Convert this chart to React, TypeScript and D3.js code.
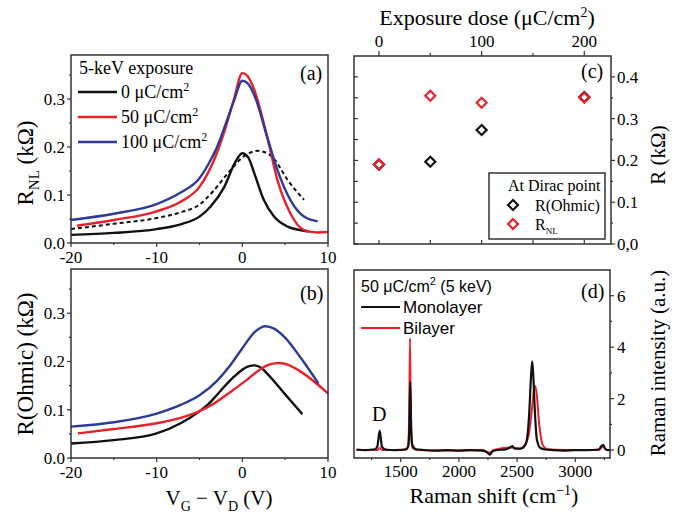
import React from "react";
import * as d3 from "d3";

// panel (a): nonlocal resistance vs gate voltage
const rnl0 = [[-20, 0.017], [-15, 0.021], [-10, 0.029], [-7.2, 0.039], [-5, 0.055], [-3.7, 0.076], [-2.1, 0.117], [-0.9, 0.166], [0, 0.187], [0.7, 0.178], [1.4, 0.145], [2.5, 0.09], [3.7, 0.055], [5.3, 0.034], [7, 0.026], [7.8, 0.024]];
const rnl0Dashed = [[-20, 0.029], [-15, 0.04], [-10, 0.052], [-7.2, 0.064], [-5, 0.08], [-3.3, 0.11], [-1.7, 0.145], [0.2, 0.181], [1.8, 0.192], [3, 0.186], [3.7, 0.175], [5.3, 0.131], [7.2, 0.09]];
const rnl50 = [[-19.3, 0.036], [-15, 0.048], [-10, 0.066], [-7.2, 0.086], [-5, 0.117], [-4, 0.146], [-3, 0.186], [-2, 0.238], [-1, 0.298], [0, 0.354], [0.6, 0.348], [1.4, 0.319], [2.9, 0.221], [4.1, 0.131], [5.6, 0.062], [7.2, 0.027], [8.8, 0.022], [10, 0.023]];
const rnl100 = [[-20, 0.048], [-15, 0.061], [-10, 0.081], [-7.2, 0.105], [-5, 0.135], [-4, 0.163], [-3, 0.198], [-2, 0.245], [-1, 0.295], [0, 0.338], [0.6, 0.333], [1.4, 0.308], [2.9, 0.221], [4.1, 0.152], [5.6, 0.09], [7.2, 0.055], [8.8, 0.045]];

// panel (b): ohmic resistance vs gate voltage
const ohm0 = [[-20, 0.03], [-15, 0.037], [-10, 0.051], [-7.2, 0.072], [-5, 0.097], [-4, 0.111], [-3, 0.13], [-2, 0.15], [-1, 0.168], [0, 0.183], [0.7, 0.19], [1.4, 0.192], [2.2, 0.187], [2.9, 0.175], [4.9, 0.134], [7, 0.091]];
const ohm50 = [[-19.2, 0.051], [-15, 0.06], [-10, 0.072], [-7.2, 0.083], [-5, 0.097], [-3.3, 0.113], [-1.3, 0.138], [0.6, 0.163], [2.1, 0.184], [3.2, 0.194], [4.3, 0.197], [5.5, 0.192], [6.9, 0.178], [10, 0.134]];
const ohm100 = [[-20, 0.065], [-15, 0.074], [-10, 0.092], [-7.2, 0.11], [-5, 0.13], [-2.9, 0.161], [-1.5, 0.19], [-0.1, 0.225], [1.5, 0.262], [2.7, 0.273], [3.7, 0.268], [4.9, 0.251], [7, 0.203], [8.9, 0.154]];

// panel (c): values at Dirac point vs dose
const doses = [0, 50, 100, 200];
const rOhmicDirac = [0.19, 0.197, 0.273, 0.352];
const rnlDirac = [0.19, 0.355, 0.338, 0.35];

// panel (d): raman spectra
const mono = [[1120, 0.02], [1200, 0.0], [1280, 0.03], [1300, 0.15], [1312, 0.55], [1320, 0.75], [1328, 0.5], [1340, 0.12], [1370, 0.02], [1450, 0.0], [1540, 0.02], [1565, 0.15], [1575, 1.0], [1582, 2.65], [1590, 0.9], [1600, 0.2], [1630, 0.03], [1700, 0.0], [1800, -0.02], [1900, 0.0], [2000, -0.02], [2100, 0.0], [2200, -0.02], [2240, -0.08], [2265, -0.18], [2290, -0.05], [2330, 0.0], [2400, 0.02], [2440, 0.1], [2460, 0.15], [2480, 0.05], [2530, 0.05], [2570, 0.2], [2590, 0.6], [2605, 1.5], [2620, 2.9], [2630, 3.45], [2640, 2.8], [2655, 1.3], [2670, 0.4], [2700, 0.08], [2740, 0.02], [2800, 0.0], [2900, -0.02], [3000, 0.0], [3100, 0.0], [3200, 0.02], [3230, 0.18], [3240, 0.2], [3255, 0.05], [3280, 0.0], [3300, 0.0]];
const bi = [[1120, 0.0], [1300, 0.0], [1320, 0.08], [1340, 0.0], [1550, 0.02], [1565, 0.2], [1573, 1.4], [1580, 4.35], [1588, 1.0], [1600, 0.1], [1640, 0.0], [1900, -0.02], [2200, 0.0], [2265, -0.1], [2300, 0.0], [2450, 0.1], [2520, 0.06], [2560, 0.15], [2600, 0.6], [2630, 1.7], [2650, 2.5], [2665, 2.3], [2690, 1.0], [2720, 0.2], [2760, 0.03], [2900, 0.0], [3200, 0.0], [3240, 0.15], [3270, 0.0], [3300, 0.0]];

const xTicksVG = [-20, -10, 0, 10];
const rTicks = [0, 0.1, 0.2, 0.3];
const doseTicks = [0, 100, 200];
const rcTicks = [0, 0.1, 0.2, 0.3, 0.4];
const rcLabels = ["0,0", "0.1", "0.2", "0.3", "0.4"];
const ramanXTicks = [1500, 2000, 2500, 3000];
const ramanYTicks = [0, 2, 4, 6];

const RED = "#e8222a";
const BLUE = "#2e3a97";
const BLK = "#111";
const AX = "#333";
const SERIF = "Liberation Serif, DejaVu Serif, serif";
const SANS = "Liberation Sans, Arial, sans-serif";

const App = () => {
  // panel frames
  const xA = d3.scaleLinear().domain([-20, 10]).range([71, 328]);
  const yA = d3.scaleLinear().domain([0, 0.3917]).range([243, 55]);
  const yB = d3.scaleLinear().domain([0, 0.3917]).range([458, 269]);
  const xC = d3.scaleLinear().domain([-24.3, 226]).range([354, 611]);
  const yC = d3.scaleLinear().domain([0, 0.45]).range([244, 56]);
  const xD = d3.scaleLinear().domain([1099, 3298]).range([354, 610]);
  const yD = d3.scaleLinear().domain([-0.31, 7]).range([458, 270]);

  const lineA = d3.line<number[]>().x(d => xA(d[0])).y(d => yA(d[1])).curve(d3.curveMonotoneX);
  const lineB = d3.line<number[]>().x(d => xA(d[0])).y(d => yB(d[1])).curve(d3.curveMonotoneX);
  const lineD = d3.line<number[]>().x(d => xD(d[0])).y(d => yD(d[1])).curve(d3.curveMonotoneX);

  const frame = (x0: number, x1: number, y0: number, y1: number) => (
    <rect x={x0} y={y0} width={x1 - x0} height={y1 - y0} fill="none" stroke={AX} strokeWidth={1.5} />
  );

  const diamond = (cx: number, cy: number, color: string, key: string) => (
    <path key={key} d={`M${cx},${cy - 5}L${cx + 5},${cy}L${cx},${cy + 5}L${cx - 5},${cy}Z`} fill="none" stroke={color} strokeWidth={2.2} />
  );

  const vgPanel = (y: d3.ScaleLinear<number, number>, labelBase: number) => (
    <g>
      {d3.range(-20, 10.1, 5).map(v => (
        <line key={"bx" + v} x1={xA(v)} x2={xA(v)} y1={y(0)} y2={y(0) + (v % 10 === 0 ? 4 : 2)} stroke={AX} strokeWidth={1.2} />
      ))}
      {d3.range(0, 0.36, 0.05).map(v => (
        <line key={"ly" + v} x1={71} x2={71 - (Math.round(v * 100) % 10 === 0 ? 4 : 2)} y1={y(v)} y2={y(v)} stroke={AX} strokeWidth={1.2} />
      ))}
      {xTicksVG.map(v => (
        <text key={"xl" + v} x={xA(v)} y={labelBase} textAnchor="middle" fontSize={17}>{v < 0 ? "-" + Math.abs(v) : v}</text>
      ))}
      {rTicks.map(v => (
        <text key={"yl" + v} x={65} y={y(v) + 6} textAnchor="end" fontSize={17}>{v.toFixed(1)}</text>
      ))}
    </g>
  );

  return (
    <svg width={682} height={517} style={{ position: "absolute", left: 0, top: 0, background: "#fff", fontFamily: SERIF }}>
      {/* panel (a) */}
      <path d={lineA(rnl0Dashed) || ""} fill="none" stroke={BLK} strokeWidth={2} strokeDasharray="4,3" />
      <path d={lineA(rnl0) || ""} fill="none" stroke={BLK} strokeWidth={2.4} />
      <path d={lineA(rnl50) || ""} fill="none" stroke={RED} strokeWidth={2.4} />
      <path d={lineA(rnl100) || ""} fill="none" stroke={BLUE} strokeWidth={2.4} />
      {frame(71, 328, 55, 243)}
      {vgPanel(yA, 263)}
      <text x={300} y={80} fontSize={20}>(a)</text>
      <text x={79} y={74} fontSize={18}>5-keV exposure</text>
      {[["0", BLK], ["50", RED], ["100", BLUE]].map(([t, c], i) => (
        <g key={t}>
          <line x1={78} x2={117} y1={92 + i * 25} y2={92 + i * 25} stroke={c} strokeWidth={2.4} />
          <text x={121} y={98 + i * 25} fontSize={18}>{t} μC/cm<tspan dy={-7} fontSize={12}>2</tspan></text>
        </g>
      ))}
      <text transform="translate(33,163) rotate(-90)" textAnchor="middle" fontSize={23}>
        R<tspan dy={6} fontSize={15}>NL</tspan><tspan dy={-6}> (kΩ)</tspan>
      </text>

      {/* panel (b) */}
      <path d={lineB(ohm0) || ""} fill="none" stroke={BLK} strokeWidth={2.4} />
      <path d={lineB(ohm50) || ""} fill="none" stroke={RED} strokeWidth={2.4} />
      <path d={lineB(ohm100) || ""} fill="none" stroke={BLUE} strokeWidth={2.4} />
      {frame(71, 328, 269, 458)}
      {vgPanel(yB, 478)}
      <text x={300} y={300} fontSize={20}>(b)</text>
      <text transform="translate(33,364) rotate(-90)" textAnchor="middle" fontSize={23}>R(Ohmic) (kΩ)</text>
      <text x={219} y={505} textAnchor="middle" fontSize={21}>
        V<tspan dy={6} fontSize={14}>G</tspan><tspan dy={-6}> − V</tspan><tspan dy={6} fontSize={14}>D</tspan><tspan dy={-6}> (V)</tspan>
      </text>

      {/* panel (c) */}
      {frame(354, 611, 56, 244)}
      {d3.range(0, 0.41, 0.05).map(v => {
        const major = Math.round(v * 100) % 10 === 0;
        return (
          <g key={"cy" + v}>
            <line x1={611} x2={611 + (major ? 4 : 2)} y1={yC(v)} y2={yC(v)} stroke={AX} strokeWidth={1.2} />
            <line x1={354} x2={358} y1={yC(v)} y2={yC(v)} stroke={AX} strokeWidth={1.2} />
          </g>
        );
      })}
      {d3.range(0, 201, 50).map(v => (
        <g key={"cx" + v}>
          <line x1={xC(v)} x2={xC(v)} y1={56} y2={56 - (v % 100 === 0 ? 5 : 3)} stroke={AX} strokeWidth={1.2} />
          <line x1={xC(v)} x2={xC(v)} y1={244} y2={240} stroke={AX} strokeWidth={1.2} />
        </g>
      ))}
      {doseTicks.map(v => (
        <text key={"dl" + v} x={xC(v)} y={47} textAnchor="middle" fontSize={17}>{v}</text>
      ))}
      {rcTicks.map((v, i) => (
        <text key={"rl" + v} x={617} y={yC(v) + 6} fontSize={17}>{rcLabels[i]}</text>
      ))}
      <text x={487} y={25} textAnchor="middle" fontSize={22}>
        Exposure dose (μC/cm<tspan dy={-8} fontSize={14}>2</tspan><tspan dy={8}>)</tspan>
      </text>
      <text transform="translate(665,155) rotate(-90)" textAnchor="middle" fontSize={21}>R (kΩ)</text>
      <text x={581} y={78} fontSize={20}>(c)</text>
      {doses.map((d, i) => diamond(xC(d), yC(rOhmicDirac[i]), BLK, "o" + d))}
      {doses.map((d, i) => diamond(xC(d), yC(rnlDirac[i]), RED, "n" + d))}
      <rect x={489} y={173} width={116} height={66} fill="#fff" stroke={AX} strokeWidth={1.5} />
      <text x={508} y={191} fontSize={16}>At Dirac point</text>
      {diamond(513, 205, BLK, "lo")}
      {diamond(513, 224, RED, "ln")}
      <text x={535} y={211} fontSize={16}>R(Ohmic)</text>
      <text x={535} y={230} fontSize={16}>R<tspan dy={4} fontSize={9}>NL</tspan></text>

      {/* panel (d) */}
      <path d={lineD(bi) || ""} fill="none" stroke={RED} strokeWidth={2} />
      <path d={lineD(mono) || ""} fill="none" stroke={BLK} strokeWidth={2.2} />
      {frame(354, 610, 270, 458)}
      {d3.range(1250, 3300, 250).map(v => (
        <line key={"dx" + v} x1={xD(v)} x2={xD(v)} y1={458} y2={458 + (v % 500 === 0 ? 4 : 2)} stroke={AX} strokeWidth={1.2} />
      ))}
      {d3.range(0, 7, 1).map(v => (
        <line key={"dy" + v} x1={610} x2={610 + (v % 2 === 0 ? 4 : 2)} y1={yD(v)} y2={yD(v)} stroke={AX} strokeWidth={1.2} />
      ))}
      {ramanXTicks.map(v => (
        <text key={"rx" + v} x={xD(v)} y={477} textAnchor="middle" fontSize={17}>{v}</text>
      ))}
      {ramanYTicks.map(v => (
        <text key={"ry" + v} x={617} y={yD(v) + 6} fontSize={17}>{v}</text>
      ))}
      <text x={494} y={503} textAnchor="middle" fontSize={22}>
        Raman shift (cm<tspan dy={-8} fontSize={14}>−1</tspan><tspan dy={8}>)</tspan>
      </text>
      <text transform="translate(665,363) rotate(-90)" textAnchor="middle" fontSize={21}>Raman intensity (a.u.)</text>
      <text x={581} y={298} fontSize={20}>(d)</text>
      <text x={372} y={421} fontSize={20}>D</text>
      <text x={361} y={292} fontSize={16} fontFamily={SANS}>
        50 μC/cm<tspan dy={-7} fontSize={11}>2</tspan><tspan dy={7}> (5 keV)</tspan>
      </text>
      <line x1={361} x2={400} y1={307} y2={307} stroke={BLK} strokeWidth={2.2} />
      <line x1={361} x2={400} y1={328} y2={328} stroke={RED} strokeWidth={2} />
      <text x={403} y={313} fontSize={17} fontFamily={SANS}>Monolayer</text>
      <text x={403} y={334} fontSize={17} fontFamily={SANS}>Bilayer</text>
    </svg>
  );
};

export default App;
